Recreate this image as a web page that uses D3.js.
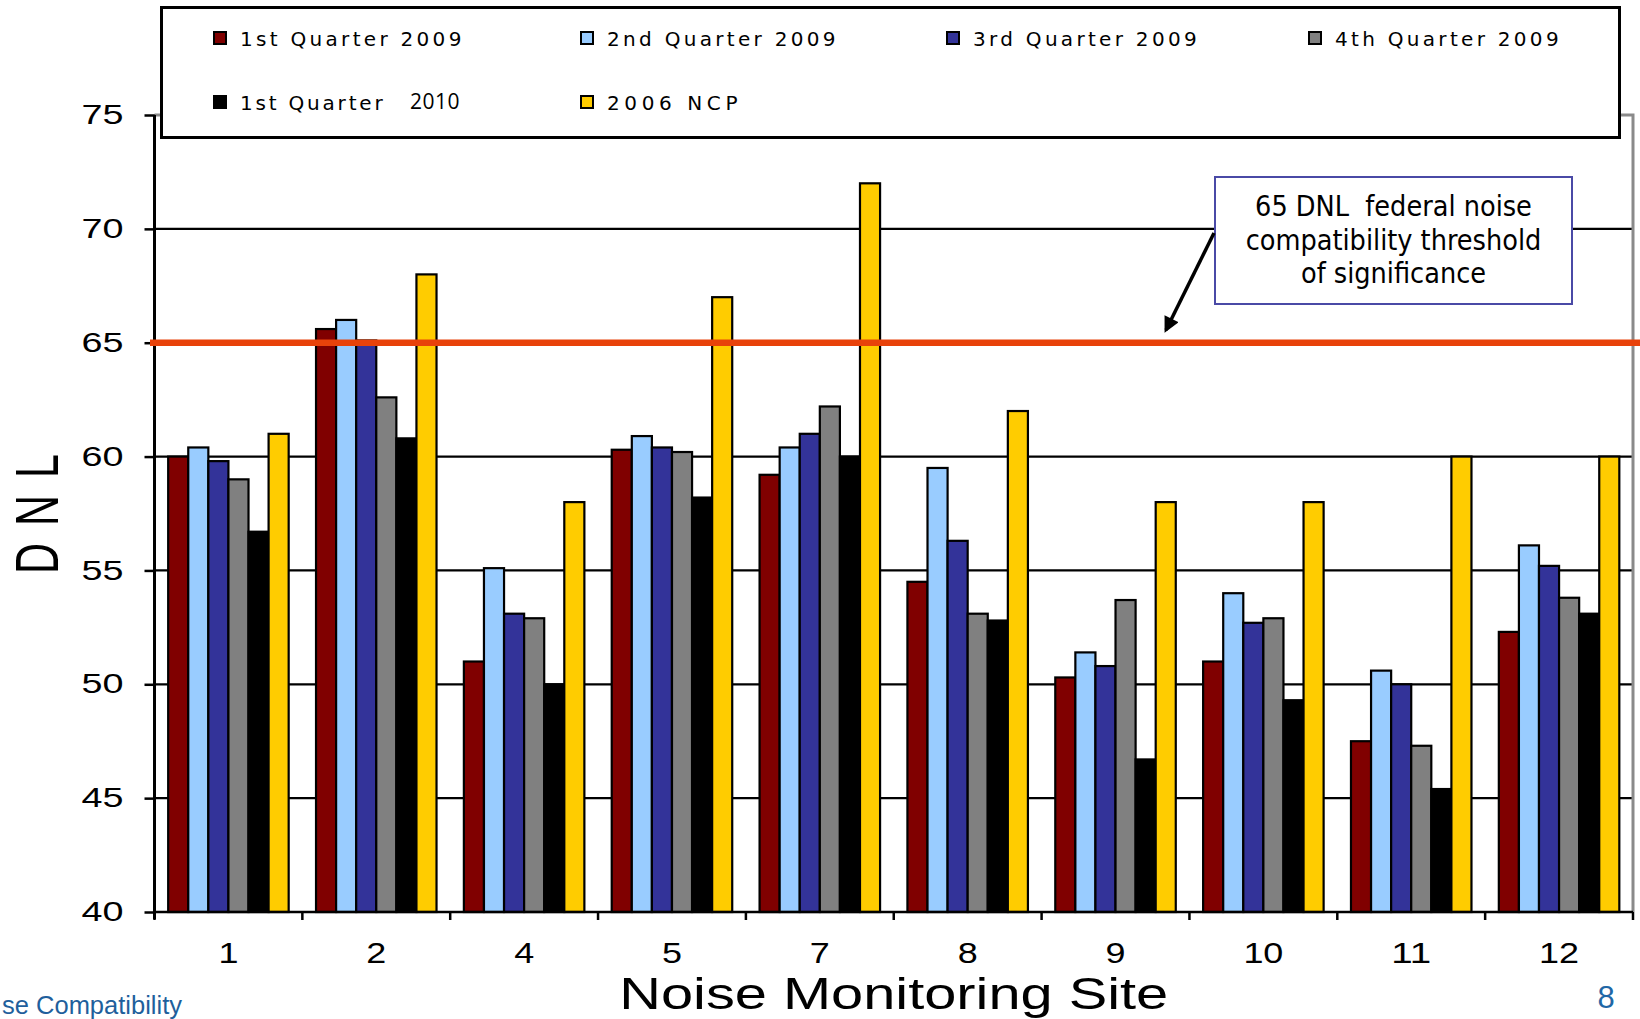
<!DOCTYPE html>
<html><head><meta charset="utf-8">
<script src="https://cdn.jsdelivr.net/npm/d3@7"></script>
<style>body{margin:0;background:#fff;overflow:hidden} svg{display:block}</style>
</head><body>
<svg id="chart" width="1640" height="1019"></svg>
<script>
// ---------- data ----------
const sites = ["1","2","4","5","7","8","9","10","11","12"];
const seriesNames = ["1st Quarter 2009","2nd Quarter 2009","3rd Quarter 2009","4th Quarter 2009","1st Quarter 2010","2006 NCP"];
const q1_2009 = [60.0,65.6,51.0,60.3,59.2,54.5,50.3,51.0,47.5,52.3];
const q2_2009 = [60.4,66.0,55.1,60.9,60.4,59.5,51.4,54.0,50.6,56.1];
const q3_2009 = [59.8,65.1,53.1,60.4,61.0,56.3,50.8,52.7,50.0,55.2];
const q4_2009 = [59.0,62.6,52.9,60.2,62.2,53.1,53.7,52.9,47.3,53.8];
const q1_2010 = [56.7,60.8,50.0,58.2,60.0,52.8,46.7,49.3,45.4,53.1];
const ncp2006 = [61,68,58,67,72,62,58,58,60,60];
const yTicks = [40,45,50,55,60,65,70,75];
const threshold = 65;
const colors = ["#800000","#99ccff","#333399","#808080","#000000","#ffcc00"];
const annotationLines = ["65 DNL  federal noise","compatibility threshold","of significance"];

const series = [q1_2009,q2_2009,q3_2009,q4_2009,q1_2010,ncp2006];

// ---------- layout ----------
const svg = d3.select("#chart");
const pL = 154.5, pR = 1633, pT = 115, pB = 912;
const y = d3.scaleLinear().domain([40,75]).range([pB, pT]);
const pad = 0.185;
const x0 = d3.scaleBand().domain(sites).range([pL, pR]).paddingInner(pad).paddingOuter(pad/2);
const x1 = d3.scaleBand().domain(d3.range(series.length)).range([0, x0.bandwidth()]).padding(0);
const ARIAL = "'Liberation Sans', Arial, sans-serif";

// gridlines
svg.append("g").selectAll("line").data(yTicks.filter(t => t > 40)).join("line")
  .attr("x1", pL).attr("x2", pR)
  .attr("y1", d => y(d)).attr("y2", d => y(d))
  .attr("stroke", "#000").attr("stroke-width", 2.2);

// plot border (top / right grey)
svg.append("path")
  .attr("d", `M${pL},${y(75)}H${pR}V${pB}`)
  .attr("fill", "none").attr("stroke", "#8a8a8a").attr("stroke-width", 3);

// bars
const groups = svg.append("g").selectAll("g").data(sites).join("g")
  .attr("transform", d => `translate(${x0(d)},0)`);
groups.selectAll("rect")
  .data((s, i) => series.map((arr, k) => ({k, v: arr[i]})))
  .join("rect")
  .attr("x", d => x1(d.k))
  .attr("width", x1.bandwidth())
  .attr("y", d => y(d.v))
  .attr("height", d => y(40) - y(d.v))
  .attr("fill", d => colors[d.k])
  .attr("stroke", "#000").attr("stroke-width", 2.2);

// y axis
const yAxis = svg.append("g").attr("transform", `translate(${pL},0)`)
  .call(d3.axisLeft(y).tickValues(yTicks).tickSize(10).tickPadding(21).tickSizeOuter(0));
yAxis.select(".domain").attr("d", `M0,${y(75)}V${pB + 7}`).attr("stroke", "#000").attr("stroke-width", 3);
yAxis.selectAll(".tick line").attr("stroke", "#000").attr("stroke-width", 2.5);
yAxis.selectAll(".tick text")
  .attr("font-family", ARIAL).attr("font-size", 27).attr("fill", "#000")
  .attr("textLength", d => String(d).length * 21).attr("lengthAdjust", "spacingAndGlyphs");

// x axis
const xAxis = svg.append("g").attr("transform", `translate(0,${pB})`)
  .call(d3.axisBottom(x0).tickSize(0).tickPadding(0));
xAxis.select(".domain").attr("d", `M${pL},0H${pR}`).attr("stroke", "#000").attr("stroke-width", 2.5);
xAxis.selectAll(".tick text")
  .attr("font-family", ARIAL).attr("font-size", 30).attr("fill", "#000")
  .attr("y", 51).attr("dy", 0)
  .attr("textLength", d => d.length * 20).attr("lengthAdjust", "spacingAndGlyphs");
const bounds = sites.map(s => x0(s) - (x0.step() - x0.bandwidth()) / 2).concat([pR]);
xAxis.append("g").selectAll("line").data(bounds).join("line")
  .attr("x1", d => d).attr("x2", d => d).attr("y1", 0).attr("y2", 8)
  .attr("stroke", "#000").attr("stroke-width", 2.5);

// threshold line
svg.append("line")
  .attr("x1", 150).attr("x2", 1640)
  .attr("y1", y(threshold)).attr("y2", y(threshold))
  .attr("stroke", "#e8420a").attr("stroke-width", 6.5);

// axis titles
svg.append("text")
  .attr("transform", `translate(58,574) rotate(-90) scale(1,1.4)`)
  .attr("font-family", ARIAL).attr("font-size", 43).attr("letter-spacing", 17)
  .attr("fill", "#000").text("DNL");
svg.append("text")
  .attr("x", (pL + pR) / 2).attr("y", 1009)
  .attr("text-anchor", "middle")
  .attr("font-family", ARIAL).attr("font-size", 44).attr("fill", "#000")
  .attr("textLength", 549).attr("lengthAdjust", "spacingAndGlyphs")
  .text("Noise Monitoring Site");

// legend
const lg = svg.append("g");
lg.append("rect").attr("x", 161.5).attr("y", 7.5).attr("width", 1458).attr("height", 130)
  .attr("fill", "#fff").attr("stroke", "#000").attr("stroke-width", 3);
const legPos = [[213,38],[580,38],[946,38],[1308,38],[213,102],[580,102]];
const items = lg.selectAll("g.item").data(seriesNames).join("g").attr("class", "item")
  .attr("transform", (d, i) => `translate(${legPos[i][0]},${legPos[i][1]})`);
items.append("rect").attr("x", 1).attr("y", -6).attr("width", 12).attr("height", 12)
  .attr("fill", (d, i) => colors[i]).attr("stroke", "#000").attr("stroke-width", 2);
items.each(function(d, i) {
  const t = d3.select(this).append("text")
    .attr("x", 27).attr("y", 7.5)
    .attr("font-family", "'DejaVu Sans', Verdana, sans-serif").attr("font-size", 20)
    .attr("letter-spacing", d === "2006 NCP" ? 4.6 : 3.3).attr("fill", "#000");
  if (d === "1st Quarter 2010") {
    t.append("tspan").attr("letter-spacing", 2.8).text("1st Quarter");
    t.append("tspan").attr("x", 197).attr("font-family", "'Open Sans', sans-serif")
      .attr("font-size", 21).attr("letter-spacing", 0.5).attr("dy", -1).text("2010");
  } else {
    t.text(d);
  }
});

// annotation
const ann = svg.append("g");
ann.append("rect").attr("x", 1215).attr("y", 177).attr("width", 357).attr("height", 127)
  .attr("fill", "#fff").attr("stroke", "#4a4aa6").attr("stroke-width", 2);
ann.selectAll("text").data(annotationLines).join("text")
  .attr("x", 1393.5).attr("y", (d, i) => 216 + i * 33.5)
  .attr("text-anchor", "middle")
  .attr("font-family", "'DejaVu Sans Condensed', 'DejaVu Sans', sans-serif")
  .attr("font-stretch", "condensed")
  .attr("font-size", 28.5).attr("fill", "#000")
  .style("white-space", "pre")
  .text(d => d);

// arrow
const defs = svg.append("defs");
defs.append("marker").attr("id", "ah").attr("viewBox", "0 0 10 10").attr("refX", 8).attr("refY", 5)
  .attr("markerWidth", 5).attr("markerHeight", 4.5).attr("orient", "auto").attr("markerUnits", "strokeWidth")
  .append("path").attr("d", "M0,0L10,5L0,10z").attr("fill", "#000");
svg.append("line").attr("x1", 1214).attr("y1", 233).attr("x2", 1166).attr("y2", 330)
  .attr("stroke", "#000").attr("stroke-width", 3.5).attr("marker-end", "url(#ah)");

// footer
svg.append("text").attr("x", 182).attr("y", 1014).attr("text-anchor", "end")
  .attr("font-family", ARIAL).attr("font-size", 25.5).attr("fill", "#1f5f9c")
  .text("se Compatibility");
svg.append("text").attr("x", 1606).attr("y", 1008).attr("text-anchor", "middle")
  .attr("font-family", ARIAL).attr("font-size", 31).attr("fill", "#1f67a6")
  .text("8");
</script>
</body></html>
